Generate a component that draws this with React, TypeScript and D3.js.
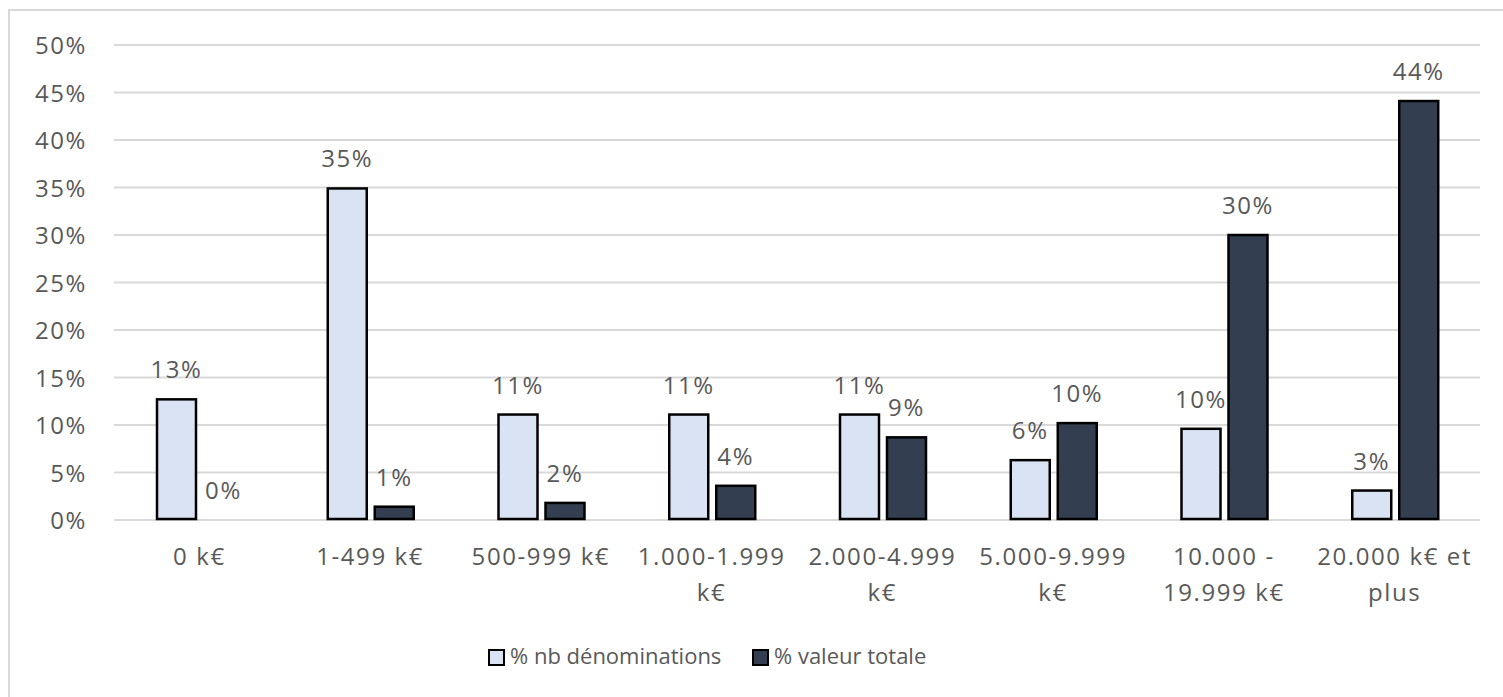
import React from "react";
import * as d3 from "d3";

const categories: string[][] = [
  ["0 k€"],
  ["1-499 k€"],
  ["500-999 k€"],
  ["1.000-1.999", "k€"],
  ["2.000-4.999", "k€"],
  ["5.000-9.999", "k€"],
  ["10.000 -", "19.999 k€"],
  ["20.000 k€ et", "plus"],
];
const seriesNames = ["% nb dénominations", "% valeur totale"];
const nbDenominations = [12.7, 34.9, 11.1, 11.1, 11.1, 6.3, 9.6, 3.1];
const valeurTotale = [0, 1.4, 1.8, 3.6, 8.7, 10.2, 30.0, 44.1];
const yTicks = [0, 5, 10, 15, 20, 25, 30, 35, 40, 45, 50];
const colors = ["#dae3f3", "#333f50"];

const W = 1503;
const H = 697;
const TEXT = "#595959";
const FONT = "'Open Sans', sans-serif";
const FS = 24;
const LS = 1.6;

export default function App() {
  const keys = categories.map((c) => c.join(" "));
  const x0 = d3.scaleBand<string>().domain(keys).range([114, 1480]).paddingInner(0).paddingOuter(0);
  const step = x0.bandwidth();
  const x1 = d3
    .scaleBand<number>()
    .domain([0, 1])
    .range([43, 129])
    .paddingInner(2 - 86 / 47)
    .paddingOuter(0);
  const y = d3.scaleLinear().domain([0, 50]).range([520, 45]);
  const series = [nbDenominations, valeurTotale];

  return (
    <svg
      width={W}
      height={H}
      style={{ position: "absolute", left: 0, top: 0, display: "block", background: "#fff" }}
    >
      <rect x={9} y={10} width={W} height={H} fill="#fff" stroke="#d9d9d9" strokeWidth={2} />
      {yTicks.map((t) => (
        <g key={t}>
          <line x1={114} x2={1480} y1={y(t)} y2={y(t)} stroke="#d9d9d9" strokeWidth={2} />
          <text
            x={87}
            y={y(t) + 9}
            textAnchor="end"
            fontFamily={FONT}
            fontSize={FS}
            letterSpacing={LS}
            fill={TEXT}
          >
            {t}%
          </text>
        </g>
      ))}
      {series.map((vals, si) =>
        vals.map((v, ci) => {
          const bx = (x0(keys[ci]) as number) + (x1(si) as number);
          const bw = x1.bandwidth();
          const top = y(v);
          return (
            <g key={si + "-" + ci}>
              {v > 0 && (
                <rect
                  x={bx}
                  y={top}
                  width={bw}
                  height={y(0) - top - 1}
                  fill={colors[si]}
                  stroke="#000"
                  strokeWidth={2.5}
                />
              )}
              <text
                x={bx + bw / 2}
                y={top - 21}
                textAnchor="middle"
                fontFamily={FONT}
                fontSize={FS}
                letterSpacing={LS}
                fill={TEXT}
              >
                {Math.round(v)}%
              </text>
            </g>
          );
        })
      )}
      {categories.map((lines, ci) => (
        <text
          key={ci}
          x={(x0(keys[ci]) as number) + step / 2}
          y={565}
          textAnchor="middle"
          fontFamily={FONT}
          fontSize={FS}
          letterSpacing={LS}
          fill={TEXT}
        >
          {lines.map((l, li) => (
            <tspan key={li} x={(x0(keys[ci]) as number) + step / 2} dy={li === 0 ? 0 : 36}>
              {l}
            </tspan>
          ))}
        </text>
      ))}
      {seriesNames.map((name, si) => {
        const lx = si === 0 ? 489 : 753;
        return (
          <g key={name}>
            <rect x={lx} y={650} width={15} height={15} fill={colors[si]} stroke="#000" strokeWidth={2} />
            <text x={lx + 21} y={664} fontFamily={FONT} fontSize={22} fill={TEXT}>
              {name}
            </text>
          </g>
        );
      })}
    </svg>
  );
}
